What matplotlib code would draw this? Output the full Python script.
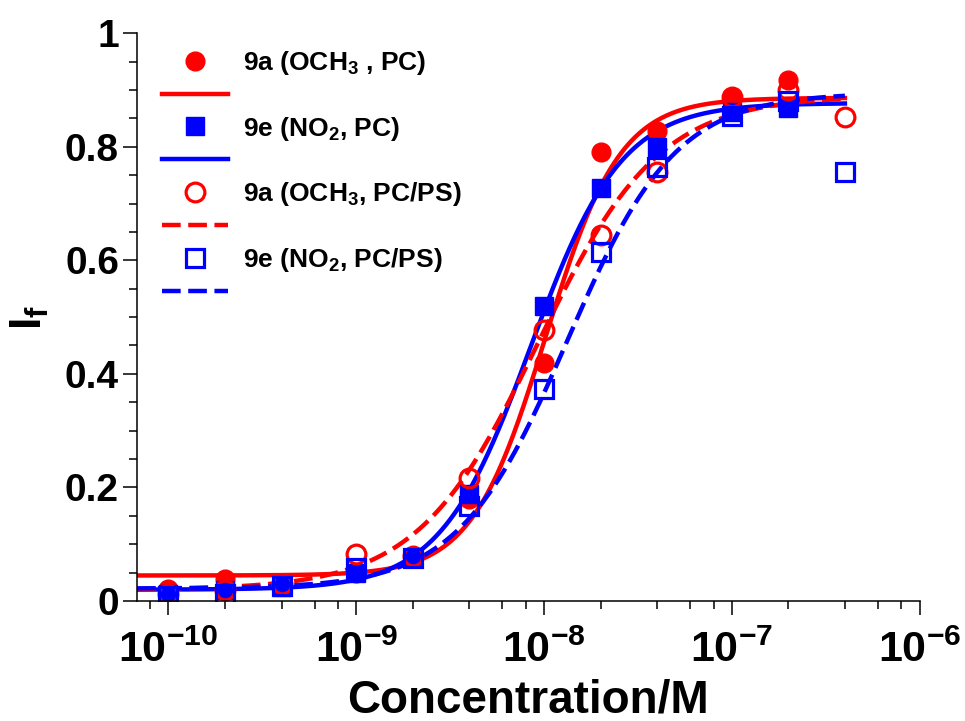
import matplotlib
matplotlib.use("Agg")
import matplotlib.pyplot as plt
import numpy as np
from matplotlib.lines import Line2D
from matplotlib.ticker import FixedLocator, LogLocator, MultipleLocator, NullFormatter

plt.rcParams['font.family'] = ['Liberation Sans', 'DejaVu Sans']
plt.rcParams['font.weight'] = 'bold'
plt.rcParams['mathtext.fontset'] = 'custom'
plt.rcParams['mathtext.rm'] = 'Liberation Sans:bold'
plt.rcParams['mathtext.bf'] = 'Liberation Sans:bold'
plt.rcParams['mathtext.default'] = 'bf'

# measured points (concentration in M, normalised intensity)
conc_pc = [1e-10, 2e-10, 4e-10, 1e-9, 2e-9, 4e-9, 1e-8, 2e-8, 4e-8, 1e-7, 2e-7]
conc_pcps = [1e-10, 2e-10, 4e-10, 1e-9, 2e-9, 4e-9, 1e-8, 2e-8, 4e-8, 1e-7, 2e-7, 4e-7]

if_9a_pc = [0.022, 0.038, 0.032, 0.05, 0.08, 0.18, 0.42, 0.79, 0.827, 0.885, 0.917]
if_9e_pc = [0.012, 0.02, 0.025, 0.05, 0.075, 0.188, 0.52, 0.728, 0.80, 0.862, 0.868]
if_9a_pcps = [0.012, 0.02, 0.03, 0.083, 0.08, 0.217, 0.478, 0.645, 0.755, 0.888, 0.90, 0.852]
if_9e_pcps = [0.009, 0.013, 0.026, 0.058, 0.075, 0.168, 0.373, 0.615, 0.765, 0.855, 0.88, 0.755]

# dose-response fit parameters: bottom, top, EC50, hill slope
fit_9a_pc = (0.045, 0.886, 1.02e-8, 2.2)
fit_9e_pc = (0.02, 0.877, 8.5e-9, 1.8)
fit_9a_pcps = (0.02, 0.89, 9.3e-9, 1.35)
fit_9e_pcps = (0.022, 0.895, 1.33e-8, 1.5)

labels = ['9a (OCH$_3$ , PC)', '9e (NO$_2$, PC)',
          '9a (OCH$_3$, PC/PS)', '9e (NO$_2$, PC/PS)']
xticks = [1e-10, 1e-9, 1e-8, 1e-7, 1e-6]


def dose_resp(x, p):
    bottom, top, ec50, hill = p
    return bottom + (top - bottom) / (1 + (ec50 / x) ** hill)


fig = plt.figure(figsize=(9.65, 7.21), dpi=100)
ax = fig.add_axes([0.142, 0.1664, 0.811, 0.7876])

x_fit = np.logspace(np.log10(6.8e-11), np.log10(4e-7), 400)
red, blue = '#ff0000', '#0000ff'
ms, lw, mew = 13.5, 3.2, 2.3
dash = (4.2, 1.7)

ax.plot(x_fit, dose_resp(x_fit, fit_9a_pc), color=red, lw=lw)
ax.plot(x_fit, dose_resp(x_fit, fit_9e_pc), color=blue, lw=lw)
ax.plot(x_fit, dose_resp(x_fit, fit_9a_pcps), color=red, lw=lw, dashes=dash)
ax.plot(x_fit, dose_resp(x_fit, fit_9e_pcps), color=blue, lw=lw, dashes=dash)

ax.plot(conc_pc, if_9a_pc, 'o', color=red, ms=ms, ls='none')
ax.plot(conc_pc, if_9e_pc, 's', color=blue, ms=ms, ls='none')
ax.plot(conc_pcps, if_9a_pcps, 'o', mfc='none', mec=red, mew=mew, ms=ms, ls='none')
ax.plot(conc_pcps, if_9e_pcps, 's', mfc='none', mec=blue, mew=mew, ms=ms, ls='none')

ax.set_xscale('log')
ax.set_xlim(6.8e-11, 1e-6)
ax.set_ylim(0, 1)
ax.xaxis.set_major_locator(FixedLocator(xticks))
ax.xaxis.set_minor_locator(LogLocator(base=10, subs=[2, 4, 6, 8], numticks=10))
ax.xaxis.set_minor_formatter(NullFormatter())
ax.set_xticklabels(['$10^{%d}$' % round(np.log10(v)) for v in xticks])
ax.yaxis.set_minor_locator(MultipleLocator(0.05))
ax.set_yticks([0, 0.2, 0.4, 0.6, 0.8, 1])
ax.set_yticklabels(['0', '0.2', '0.4', '0.6', '0.8', '1'])

for s in ['top', 'right']:
    ax.spines[s].set_visible(False)
for s in ['left', 'bottom']:
    ax.spines[s].set_linewidth(1.1)

ax.tick_params(axis='y', which='major', direction='out', length=10, width=1.1,
               labelsize=28, pad=3)
ax.tick_params(axis='y', which='minor', direction='out', length=6, width=1.1)
ax.tick_params(axis='x', which='major', direction='out', length=10, width=1.1,
               labelsize=31, pad=11)
ax.tick_params(axis='x', which='minor', direction='out', length=6, width=1.1)

ax.set_xlabel('Concentration/M', fontsize=33, fontweight='bold', labelpad=6)
ax.set_ylabel('I$_f$', fontsize=32, fontweight='bold', labelpad=10)

# legend: marker row with text, then the fitted line row below it
handles = [
    Line2D([], [], marker='o', color=red, ms=ms, ls='none'),
    Line2D([], [], color=red, lw=lw),
    Line2D([], [], marker='s', color=blue, ms=ms, ls='none'),
    Line2D([], [], color=blue, lw=lw),
    Line2D([], [], marker='o', mfc='none', mec=red, mew=mew, ms=ms, ls='none'),
    Line2D([], [], color=red, lw=lw, dashes=dash),
    Line2D([], [], marker='s', mfc='none', mec=blue, mew=mew, ms=ms, ls='none'),
    Line2D([], [], color=blue, lw=lw, dashes=dash),
]
leg_labels = [labels[0], ' ', labels[1], ' ', labels[2], ' ', labels[3], ' ']
ax.legend(handles, leg_labels, loc='upper left', bbox_to_anchor=(0.012, 1.0),
          frameon=False, fontsize=19, handlelength=2.5, handletextpad=0.55,
          labelspacing=0.26, borderaxespad=0.2)

fig.savefig('out.png', dpi=100)
